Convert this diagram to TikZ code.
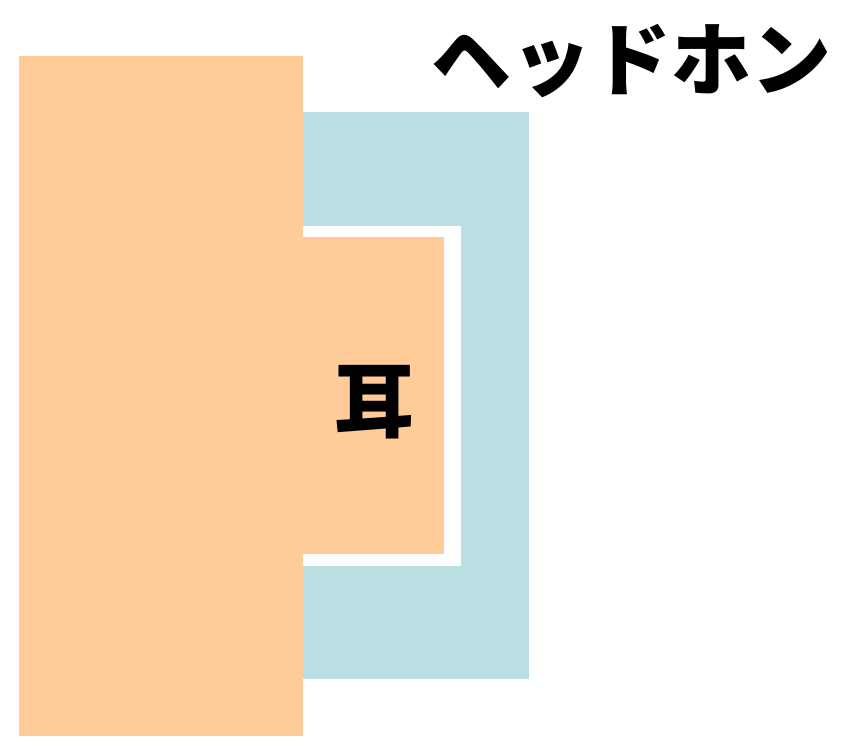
\documentclass[tikz,border=0pt]{standalone}
\usepackage{fontspec}
\newfontfamily\cjk{Noto Sans CJK JP}
\usetikzlibrary{positioning}
\definecolor{skin}{RGB}{254,203,153}
\definecolor{cup}{RGB}{186,223,226}

\begin{document}
\begin{tikzpicture}[x=1pt,y=-1pt]

    \tikzstyle{commonNode}=[rectangle, inner sep=0pt, outer sep=0pt, anchor=north west]
    \tikzstyle{head}=[commonNode, fill=skin]
    \tikzstyle{phone}=[commonNode, fill=cup]
    \tikzstyle{gap}=[commonNode, fill=white]
    \tikzstyle{label}=[inner sep=0pt, font=\cjk\bfseries\fontsize{80}{80}\selectfont]

    \useasboundingbox (0,0) rectangle (846,750);

    % Head and headphone
    \node at (303,112) [phone, minimum width=226pt, minimum height=567pt] (HP) {};
    \node at (19,56) [head, minimum width=284pt, minimum height=680pt] (HD) {};
    \node at (303,226) [gap, minimum width=158pt, minimum height=340pt] (GP) {};
    \node at (303,237) [head, minimum width=141pt, minimum height=317pt] (ER) {};

    % Labels
    \node at (374,402) [label] (EL) {耳};
    \node at (631,61) [label] (HL) {ヘッドホン};

\end{tikzpicture}
\end{document}
